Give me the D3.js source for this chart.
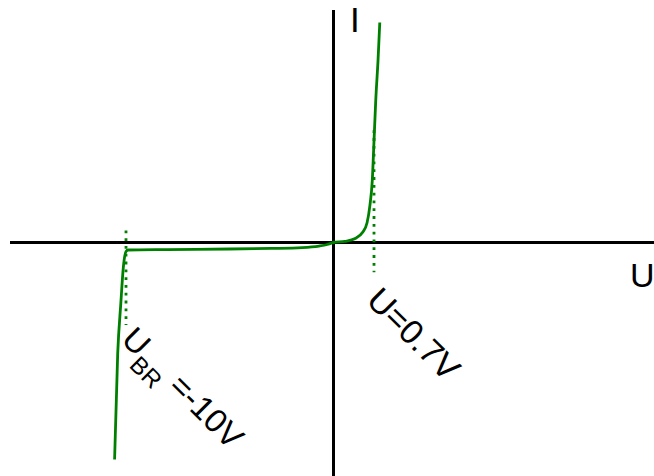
<!DOCTYPE html>
<html>
<head>
<meta charset="utf-8">
<script src="https://cdn.jsdelivr.net/npm/d3@7"></script>
<style>
  html, body { margin: 0; padding: 0; background: #fff; }
  svg { display: block; }
</style>
</head>
<body>
<svg id="chart" width="654" height="476"></svg>
<script>
// Diode characteristic: voltage U (V) against current I (arbitrary units)
const voltage = [-10.55, -10.4, -10.25, -10.13, -10.0, -9.9, -8, -5, -3, -1.5, -0.7, -0.3, 0,
                 0.2, 0.375, 0.5, 0.58, 0.63, 0.67, 0.7, 0.73, 0.77, 0.80];
const current = [-98.6, -50.5, -27.7, -11.4, -4.1, -3.4, -3.2, -2.95, -2.7, -2.3, -1.6, -0.9, 0,
                 0.5, 1.8, 4.5, 9, 17, 28, 46, 64.5, 83, 100];

// Reference voltages marked with dotted guides, and the current span each guide covers
const markerVoltage = [-10, 0.7];
const markerCurrent = [[5.5, -37.5], [51, -13.5]];

const axisLabels = ["I", "U"];

const svg = d3.select("#chart");
const green = "#008000";
const font = "'Liberation Sans', Arial, sans-serif";

// Piecewise voltage scale: breakdown region and forward region stretched
const x = d3.scaleLinear().domain([-10, 0, 0.7]).range([126, 333.5, 374]);
const y = d3.scaleLinear().domain([-100, 100]).range([462.5, 22.5]);

// Axes
svg.append("line")
  .attr("x1", 10).attr("x2", 654)
  .attr("y1", y(0)).attr("y2", y(0))
  .attr("stroke", "#000").attr("stroke-width", 3);
svg.append("line")
  .attr("x1", x(0)).attr("x2", x(0))
  .attr("y1", 10).attr("y2", 476)
  .attr("stroke", "#000").attr("stroke-width", 3);

svg.append("text")
  .attr("x", 350).attr("y", 31.5)
  .attr("font-family", font).attr("font-size", 35)
  .text(axisLabels[0]);
svg.append("text")
  .attr("x", 630).attr("y", 287)
  .attr("font-family", font).attr("font-size", 34)
  .text(axisLabels[1]);

// Dotted guides
svg.selectAll("line.guide")
  .data(markerVoltage)
  .join("line")
  .attr("class", "guide")
  .attr("x1", d => x(d)).attr("x2", d => x(d))
  .attr("y1", (d, i) => y(markerCurrent[i][0]))
  .attr("y2", (d, i) => y(markerCurrent[i][1]))
  .attr("stroke", green).attr("stroke-width", 2.8)
  .attr("stroke-dasharray", "2.8,5");

// Characteristic curve
const pts = voltage.map((u, i) => [u, current[i]]);
svg.append("path")
  .datum(pts)
  .attr("fill", "none")
  .attr("stroke", green)
  .attr("stroke-width", 2.8)
  .attr("d", d3.line().x(d => x(d[0])).y(d => y(d[1])).curve(d3.curveMonotoneX));

// Rotated annotations
const fwd = svg.append("text")
  .attr("transform", "translate(365,302) rotate(45)")
  .attr("font-family", font).attr("font-size", 34);
fwd.text("U=" + markerVoltage[1] + "V");

const rev = svg.append("text")
  .attr("transform", "translate(120,341) rotate(45)")
  .attr("font-family", font).attr("font-size", 33);
rev.append("tspan").text("U");
rev.append("tspan").attr("font-size", 24).attr("dy", 12).text("BR");
rev.append("tspan").attr("dy", -12).text(" =" + markerVoltage[0] + "V");
</script>
</body>
</html>
